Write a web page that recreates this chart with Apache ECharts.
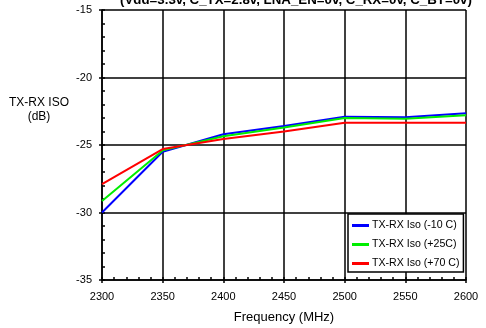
<!DOCTYPE html>
<html>
<head>
<meta charset="utf-8">
<script src="https://cdn.jsdelivr.net/npm/echarts@6/dist/echarts.min.js"></script>
<style>
  html, body { margin: 0; padding: 0; background: #fff; }
  #chart { width: 486px; height: 328px; }
</style>
</head>
<body>
<div id="chart"></div>
<script>
// Frequency sweep points (MHz)
const frequencies = [2300, 2350, 2400, 2450, 2500, 2550, 2600];
// TX-RX isolation (dB) at three temperatures
const isoMinus10C = [-30.0, -25.5, -24.2, -23.6, -22.9, -22.95, -22.65];
const isoPlus25C  = [-29.15, -25.4, -24.35, -23.7, -23.0, -23.05, -22.8];
const isoPlus70C  = [-27.9, -25.3, -24.55, -24.0, -23.35, -23.35, -23.35];
const seriesNames = ['TX-RX Iso (-10 C)', 'TX-RX Iso (+25C)', 'TX-RX Iso (+70 C)'];

const FONT = 'Liberation Sans, Arial, sans-serif';

function pairs(vals) {
  return frequencies.map((f, i) => [f, vals[i]]);
}

const chart = echarts.init(document.getElementById('chart'), null, { renderer: 'canvas' });

const xBase = { type: 'value', min: 2300, max: 2600, interval: 50, gridIndex: 0, position: 'bottom' };
const yBase = { type: 'value', min: -35, max: -15, interval: 5, gridIndex: 0, position: 'left' };

chart.setOption({
  animation: false,
  backgroundColor: '#fff',
  title: {
    text: '(Vdd=3.3v, C_TX=2.8v, LNA_EN=0v, C_RX=0v, C_BT=0v)',
    left: 120,
    top: -6,
    padding: 0,
    textStyle: { fontFamily: FONT, fontSize: 13.3, fontWeight: 'bold', color: '#000' }
  },
  grid: { left: 102, right: 20, top: 10, bottom: 48, containLabel: false, outerBoundsMode: 'none' },
  xAxis: [
    Object.assign({}, xBase, {
      name: 'Frequency (MHz)',
      nameLocation: 'middle',
      nameGap: 31,
      nameTextStyle: { fontFamily: FONT, fontSize: 13, color: '#000' },
      axisLine: { show: true, lineStyle: { color: '#000', width: 1.5 } },
      axisTick: { show: true, inside: false, length: 3, lineStyle: { color: '#000', width: 1.5 } },
      axisLabel: { fontFamily: FONT, fontSize: 11, color: '#000', margin: 11, formatter: v => String(v) },
      splitLine: { show: true, lineStyle: { color: '#000', width: 1.5 } }
    }),
    Object.assign({}, xBase, {
      axisLine: { show: false },
      axisTick: { show: true, inside: true, length: 3, lineStyle: { color: '#000', width: 1.5 } },
      minorTick: { show: true, splitNumber: 5, length: 3, lineStyle: { color: '#000', width: 1.5 } },
      axisLabel: { show: false },
      splitLine: { show: false }
    })
  ],
  yAxis: [
    Object.assign({}, yBase, {
      axisLine: { show: true, lineStyle: { color: '#000', width: 1.5 } },
      axisTick: { show: true, inside: false, length: 3, lineStyle: { color: '#000', width: 1.5 } },
      axisLabel: { fontFamily: FONT, fontSize: 11, color: '#000', margin: 10 },
      splitLine: { show: true, lineStyle: { color: '#000', width: 1.5 } }
    }),
    Object.assign({}, yBase, {
      axisLine: { show: false },
      axisTick: { show: true, inside: true, length: 3, lineStyle: { color: '#000', width: 1.5 } },
      minorTick: { show: true, splitNumber: 5, length: 3, lineStyle: { color: '#000', width: 1.5 } },
      axisLabel: { show: false },
      splitLine: { show: false }
    })
  ],
  legend: {
    orient: 'vertical',
    left: 348,
    top: 214,
    padding: [6, 4, 3, 4],
    itemGap: 8,
    itemWidth: 17,
    itemHeight: 3,
    icon: 'rect',
    backgroundColor: '#fff',
    borderColor: '#000',
    borderWidth: 1.5,
    borderRadius: 0,
    textStyle: { fontFamily: FONT, fontSize: 10.6, color: '#000', padding: [0, 0, 0, -2] },
    data: seriesNames
  },
  graphic: [{
    type: 'text',
    x: 39,
    y: 96,
    style: {
      text: 'TX-RX ISO\n(dB)',
      fontFamily: FONT,
      fontSize: 12,
      lineHeight: 14,
      fill: '#000',
      align: 'center'
    }
  }],
  series: [
    { name: seriesNames[0], type: 'line', data: pairs(isoMinus10C), color: '#0000ff' },
    { name: seriesNames[1], type: 'line', data: pairs(isoPlus25C), color: '#00ee00' },
    { name: seriesNames[2], type: 'line', data: pairs(isoPlus70C), color: '#ff0000' }
  ].map(s => Object.assign(s, {
    xAxisIndex: 0,
    yAxisIndex: 0,
    symbol: 'none',
    lineStyle: { width: 2, color: s.color },
    itemStyle: { color: s.color }
  }))
});
</script>
</body>
</html>
